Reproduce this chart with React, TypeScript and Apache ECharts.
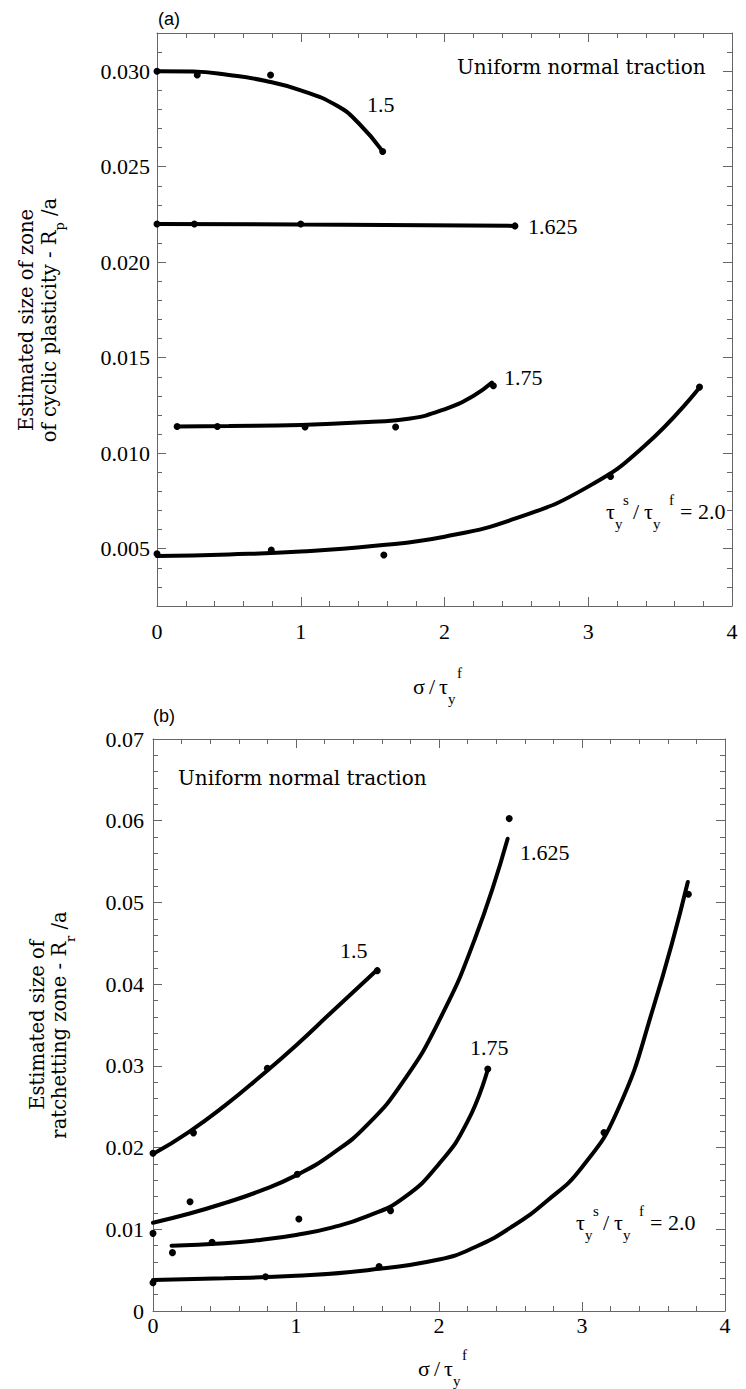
import React, { useEffect, useRef } from "react";
import * as echarts from "echarts";

// ---------- Panel (a): cyclic plasticity zone ----------
const aLine150X = [0, 0.25, 0.5, 0.75, 1.0, 1.25, 1.4, 1.57];
const aLine150Y = [0.0300, 0.02998, 0.0298, 0.0295, 0.0290, 0.0282, 0.0273, 0.0258];
const aDots150X = [0, 0.28, 0.79, 1.57];
const aDots150Y = [0.0300, 0.0298, 0.0298, 0.0258];

const aLine1625X = [0, 1.0, 2.49];
const aLine1625Y = [0.0220, 0.02198, 0.0219];
const aDots1625X = [0, 0.26, 1.0, 2.49];
const aDots1625Y = [0.0220, 0.0220, 0.0220, 0.0219];

const aLine175X = [0.14, 0.5, 1.0, 1.5, 1.75, 2.0, 2.2, 2.33];
const aLine175Y = [0.0114, 0.01142, 0.01148, 0.01165, 0.0118, 0.0123, 0.0130, 0.0137];
const aDots175X = [0.14, 0.42, 1.03, 1.66, 2.34];
const aDots175Y = [0.0114, 0.0114, 0.01137, 0.01137, 0.01353];

const aLine200X = [0, 0.5, 1.0, 1.5, 2.0, 2.5, 3.0, 3.4, 3.77];
const aLine200Y = [0.00462, 0.00470, 0.00485, 0.00514, 0.00563, 0.00660, 0.00825, 0.01044, 0.0134];
const aDots200X = [0, 0.795, 1.578, 3.155, 3.774];
const aDots200Y = [0.00473, 0.00493, 0.00467, 0.00878, 0.01346];

// ---------- Panel (b): ratchetting zone ----------
const bLine150X = [0, 0.25, 0.5, 0.75, 1.0, 1.25, 1.57];
const bLine150Y = [0.0192, 0.0219, 0.0251, 0.0287, 0.0325, 0.0366, 0.0418];
const bDots150X = [0, 0.283, 0.80, 1.568];
const bDots150Y = [0.0193, 0.0218, 0.0297, 0.04165];

const bLine1625X = [0, 0.25, 0.5, 0.75, 1.0, 1.25, 1.5, 1.75, 2.0, 2.25, 2.48];
const bLine1625Y = [0.0108, 0.0119, 0.0132, 0.0147, 0.0166, 0.0192, 0.0228, 0.0281, 0.0355, 0.0455, 0.0578];
const bDots1625X = [0.259, 1.009, 2.491];
const bDots1625Y = [0.01338, 0.01673, 0.06026];

const bLine175X = [0.13, 0.5, 0.75, 1.0, 1.25, 1.5, 1.75, 2.0, 2.2, 2.34];
const bLine175Y = [0.0080, 0.0083, 0.0087, 0.0093, 0.0102, 0.0116, 0.0138, 0.0180, 0.0232, 0.0295];
const bDots175X = [0, 0.136, 0.413, 1.02, 1.661, 2.341];
const bDots175Y = [0.0095, 0.00714, 0.0084, 0.01126, 0.01228, 0.02962];

const bLine200X = [0, 0.5, 1.0, 1.5, 2.0, 2.25, 2.5, 2.75, 3.0, 3.25, 3.5, 3.74];
const bLine200Y = [0.0038, 0.0040, 0.0043, 0.0050, 0.0063, 0.0078, 0.0102, 0.0134, 0.0176, 0.0246, 0.0372, 0.0525];
const bDots200X = [0, 0.787, 1.581, 3.154, 3.744];
const bDots200Y = [0.00346, 0.0042, 0.00543, 0.02183, 0.0510];

const curveLabels = ["1.5", "1.625", "1.75"];
const panelTitles = ["(a)", "(b)"];
const noteText = "Uniform normal traction";

const SERIF = '"Liberation Serif", "Times New Roman", serif';
const WIDE = '"DejaVu Serif", serif';
const SANS = '"Liberation Sans", Arial, sans-serif';

const zip = (xs: number[], ys: number[]) => xs.map((x, i) => [x, ys[i]]);

const axisColor = "#666";

function xAxisDef(gi: number, pos: "top" | "bottom", showLabel: boolean, margin: number) {
  return {
    type: "value",
    gridIndex: gi,
    position: pos,
    min: 0,
    max: 4,
    interval: 1,
    axisLine: { show: true, onZero: false, lineStyle: { color: axisColor, width: 1 } },
    axisTick: { show: true, inside: true, length: 9, lineStyle: { color: axisColor, width: 1 } },
    minorTick: { show: true, splitNumber: 5, length: 5, lineStyle: { color: axisColor, width: 1 } },
    splitLine: { show: false },
    axisLabel: {
      show: showLabel,
      margin,
      color: "#000",
      fontFamily: SERIF,
      fontSize: 22,
    },
  };
}

function yAxisDef(gi: number, pos: "left" | "right", showLabel: boolean, extra: any) {
  return {
    type: "value",
    gridIndex: gi,
    position: pos,
    axisLine: { show: true, onZero: false, lineStyle: { color: axisColor, width: 1 } },
    axisTick: { show: true, inside: true, length: 9, lineStyle: { color: axisColor, width: 1 } },
    minorTick: { show: true, splitNumber: 5, length: 5, lineStyle: { color: axisColor, width: 1 } },
    splitLine: { show: false },
    ...extra,
    axisLabel: {
      show: showLabel,
      color: "#000",
      fontFamily: SERIF,
      fontSize: 22,
      ...(extra.axisLabel || {}),
    },
  };
}

function txt(text: string, x: number, y: number, fontSize: number, font = SERIF, align = "left") {
  return {
    type: "text",
    x,
    y,
    style: { text, fill: "#000", fontSize, fontFamily: font, align, verticalAlign: "middle" },
  };
}

function tauRatio(x: number, y: number) {
  return {
    type: "group",
    x,
    y,
    children: [
      txt("τ", 0, 0, 22),
      txt("y", 9, 13, 15),
      txt("s", 17, -11, 15),
      txt("/", 27, 0, 22),
      txt("τ", 38, 0, 22),
      txt("y", 47, 13, 15),
      txt("f", 63, -11, 15),
      txt("= 2.0", 74, 0, 22),
    ],
  };
}

function sigmaTitle(x: number, y: number) {
  return {
    type: "group",
    x,
    y,
    children: [
      txt("σ", 0, 0, 22),
      txt("/", 16, 0, 22),
      txt("τ", 26, 0, 22),
      txt("y", 35, 13, 15),
      txt("f", 44, -13, 15),
    ],
  };
}

function yTitle(x: number, y: number, line1: string, pre: string, sub: string, post: string, gap: number) {
  return {
    type: "group",
    x,
    y,
    rotation: Math.PI / 2,
    children: [
      {
        type: "text",
        x: 0,
        y: -gap,
        style: { text: line1, fill: "#000", fontSize: 19.5, fontFamily: WIDE, align: "center", verticalAlign: "middle" },
      },
      {
        type: "text",
        x: 0,
        y: gap,
        style: {
          text: `{n|${pre}}{s|${sub}}{n|${post}}`,
          fill: "#000",
          align: "center",
          verticalAlign: "middle",
          rich: {
            n: { fontSize: 19.5, fontFamily: WIDE, lineHeight: 34, verticalAlign: "middle", fill: "#000" },
            s: { fontSize: 13, fontFamily: WIDE, lineHeight: 34, verticalAlign: "bottom", fill: "#000" },
          },
        },
      },
    ],
  };
}

function lineSeries(xi: number, xs: number[], ys: number[]) {
  return {
    type: "line",
    xAxisIndex: xi,
    yAxisIndex: xi,
    data: zip(xs, ys),
    smooth: 0.5,
    showSymbol: false,
    lineStyle: { color: "#000", width: 4, cap: "round" },
    z: 2,
  };
}

function dotSeries(xi: number, xs: number[], ys: number[]) {
  return {
    type: "scatter",
    xAxisIndex: xi,
    yAxisIndex: xi,
    data: zip(xs, ys),
    symbolSize: 7,
    itemStyle: { color: "#000", opacity: 1 },
    z: 3,
  };
}

export default function App() {
  const ref = useRef<HTMLDivElement>(null);
  useEffect(() => {
    if (!ref.current) return;
    const chart = echarts.init(ref.current, undefined, { renderer: "svg" });
    const option: any = {
      animation: false,
      backgroundColor: "#fff",
      grid: [
        { left: 157, top: 33, width: 575, height: 573 },
        { left: 153, top: 739, width: 572, height: 572 },
      ],
      xAxis: [
        xAxisDef(0, "bottom", true, 14),
        xAxisDef(1, "bottom", true, 3),
        xAxisDef(0, "top", false, 8),
        xAxisDef(1, "top", false, 8),
      ],
      yAxis: [
        yAxisDef(0, "left", true, {
          min: 0.002,
          max: 0.032,
          splitNumber: 6,
          axisLabel: { margin: 7, showMinLabel: false, showMaxLabel: false, formatter: (v: number) => v.toFixed(3) },
        }),
        yAxisDef(1, "left", true, {
          min: 0,
          max: 0.07,
          interval: 0.01,
          axisLabel: { margin: 9, formatter: (v: number) => (v === 0 ? "0" : v.toFixed(2)) },
        }),
        yAxisDef(0, "right", false, { min: 0.002, max: 0.032, splitNumber: 6 }),
        yAxisDef(1, "right", false, { min: 0, max: 0.07, interval: 0.01 }),
      ],
      series: [
        lineSeries(0, aLine150X, aLine150Y),
        dotSeries(0, aDots150X, aDots150Y),
        lineSeries(0, aLine1625X, aLine1625Y),
        dotSeries(0, aDots1625X, aDots1625Y),
        lineSeries(0, aLine175X, aLine175Y),
        dotSeries(0, aDots175X, aDots175Y),
        lineSeries(0, aLine200X, aLine200Y),
        dotSeries(0, aDots200X, aDots200Y),
        lineSeries(1, bLine150X, bLine150Y),
        dotSeries(1, bDots150X, bDots150Y),
        lineSeries(1, bLine1625X, bLine1625Y),
        dotSeries(1, bDots1625X, bDots1625Y),
        lineSeries(1, bLine175X, bLine175Y),
        dotSeries(1, bDots175X, bDots175Y),
        lineSeries(1, bLine200X, bLine200Y),
        dotSeries(1, bDots200X, bDots200Y),
      ],
      graphic: [
        txt(panelTitles[0], 158, 19, 18, SANS),
        txt(panelTitles[1], 153, 716, 18, SANS),
        txt(noteText, 457, 67, 20, WIDE),
        txt(noteText, 178, 778, 20, WIDE),
        txt(curveLabels[0], 367, 104, 22),
        txt(curveLabels[1], 528, 226, 22),
        txt(curveLabels[2], 504, 377, 22),
        tauRatio(606, 511),
        txt(curveLabels[0], 340, 950, 22),
        txt(curveLabels[1], 520, 852, 22),
        txt(curveLabels[2], 470, 1047, 22),
        tauRatio(576, 1222),
        sigmaTitle(413, 686),
        sigmaTitle(418, 1368),
        yTitle(37.5, 320, "Estimated size of zone", "of cyclic plasticity - R", "p", " /a", 11.5),
        yTitle(48.5, 1025, "Estimated size of", "ratchetting zone - R", "r", " /a", 11.2),
      ],
    };
    chart.setOption(option);
    return () => chart.dispose();
  }, []);
  return (
    <div
      ref={ref}
      style={{ position: "absolute", left: 0, top: 0, width: 746, height: 1389, background: "#fff" }}
    />
  );
}
